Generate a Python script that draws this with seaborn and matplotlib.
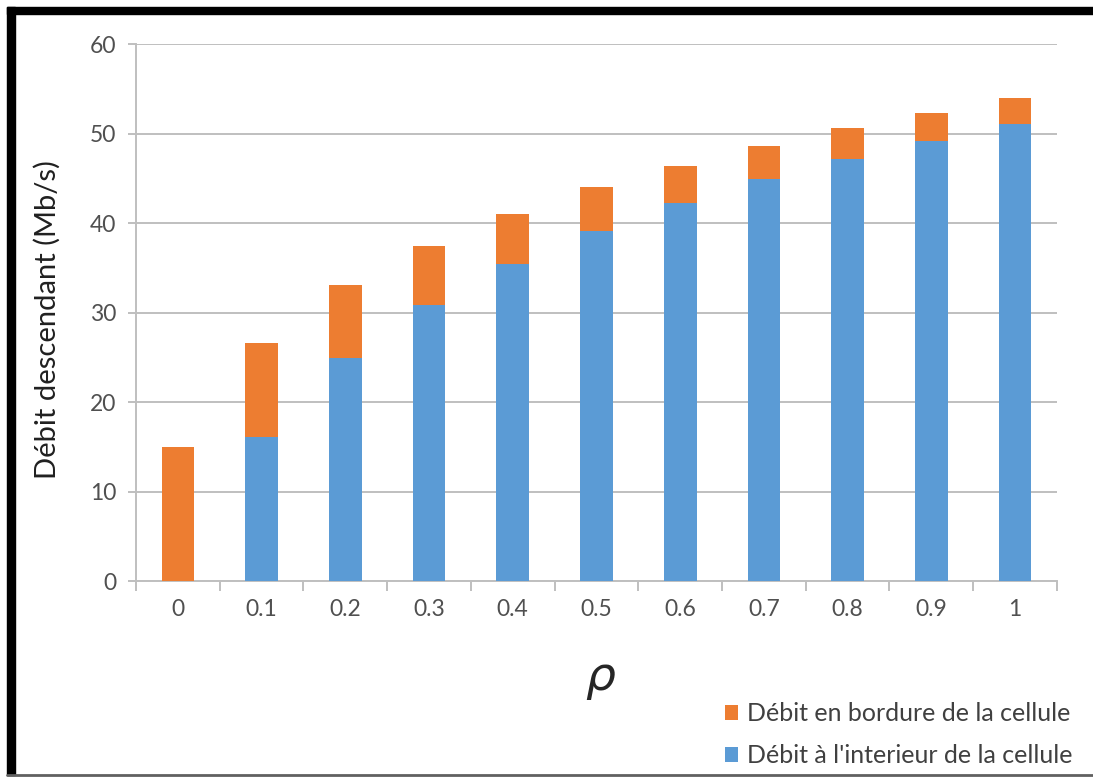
import numpy as np
import pandas as pd
import matplotlib
matplotlib.use("Agg")
import matplotlib.pyplot as plt
import seaborn as sns
from matplotlib.patches import Rectangle, Patch
from matplotlib.lines import Line2D

sns.set_style("white")
plt.rcParams['font.family'] = ['Lato', 'DejaVu Sans']

# data
rho = ['0', '0.1', '0.2', '0.3', '0.4', '0.5', '0.6', '0.7', '0.8', '0.9', '1']
debit_interieur = [0, 16.1, 24.9, 30.8, 35.4, 39.1, 42.2, 44.9, 47.2, 49.2, 51.1]
debit_bordure = [15.0, 10.5, 8.2, 6.6, 5.6, 4.9, 4.2, 3.7, 3.4, 3.1, 2.9]

df = pd.DataFrame({'rho': rho,
                   'interieur': debit_interieur,
                   'bordure': debit_bordure})
df['total'] = df['interieur'] + df['bordure']

orange = '#ED7D31'
blue = '#5B9BD5'
grey_txt = '#505050'

fig = plt.figure(figsize=(10.93, 7.78), dpi=100)
ax = fig.add_axes([0.1244, 0.2532, 0.8426, 0.6902])

sns.barplot(data=df, x='rho', y='total', color=orange, width=0.39,
            saturation=1, linewidth=0, ax=ax, zorder=3)
sns.barplot(data=df, x='rho', y='interieur', color=blue, width=0.39,
            saturation=1, linewidth=0, ax=ax, zorder=4)

ax.set_ylim(0, 60)
ax.set_xlim(-0.5, len(rho) - 0.5)
ax.set_yticks(range(0, 61, 10))
ax.yaxis.grid(True, color='#BFBFBF', linewidth=1.4, zorder=0)
ax.set_axisbelow(True)

for s in ['top', 'right']:
    ax.spines[s].set_visible(False)
ax.spines['left'].set_color('#BFBFBF')
ax.spines['left'].set_linewidth(1.4)
ax.spines['bottom'].set_color('#BFBFBF')
ax.spines['bottom'].set_linewidth(1.4)

ax.tick_params(axis='y', length=6, width=1.4, color='#BFBFBF', left=True,
               labelsize=16.5, labelcolor=grey_txt, pad=8)
ax.tick_params(axis='x', length=0, labelsize=16.5, labelcolor=grey_txt, pad=13)
# category boundary ticks, excel style
ax.set_xticks(np.arange(-0.5, len(rho), 1), minor=True)
ax.tick_params(axis='x', which='minor', length=7, width=1.4, color='#BFBFBF', bottom=True)

ax.set_ylabel('Débit descendant (Mb/s)', fontsize=21, color='#202020')
ax.yaxis.set_label_coords(-0.082, 0.486)
ax.set_xlabel('')
fig.text(0.55, 0.125, r'$\rho$', fontsize=34, ha='center', va='center')

handles = [Patch(facecolor=orange, edgecolor='none'),
           Patch(facecolor=blue, edgecolor='none')]
fig.legend(handles, ['Débit en bordure de la cellule', "Débit à l'interieur de la cellule"],
           loc='lower right', bbox_to_anchor=(1.002, -0.015), frameon=False,
           fontsize=18, labelcolor='#404040', handlelength=0.55, handleheight=0.55,
           handletextpad=0.35, labelspacing=0.75)

# black frame around the picture
fig.add_artist(Rectangle((7 / 1093, 3 / 778), 8 / 1093, 1 - 10 / 778,
                         transform=fig.transFigure, color='black', zorder=10))
fig.add_artist(Rectangle((7 / 1093, 1 - 14 / 778), 1, 7 / 778,
                         transform=fig.transFigure, color='black', zorder=10))
fig.add_artist(Line2D([7 / 1093, 1], [3 / 778, 3 / 778], transform=fig.transFigure,
                      color='#606060', linewidth=2, zorder=10))

plt.savefig('out.png', dpi=100)
